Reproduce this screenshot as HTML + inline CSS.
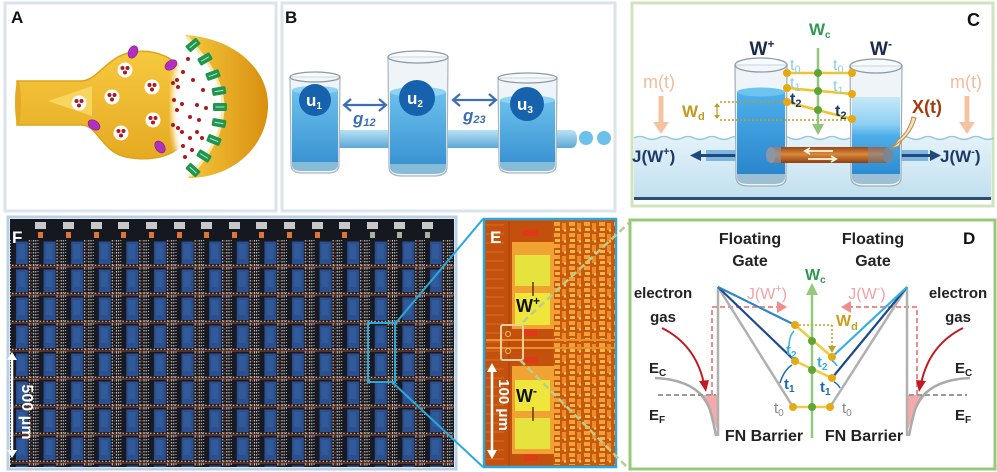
<!DOCTYPE html>
<html><head><meta charset="utf-8"><style>
html,body{margin:0;padding:0;background:#fff;}
svg{display:block;}
text{font-family:"Liberation Sans",Arial,sans-serif;}
</style></head><body>
<svg width="997" height="472" viewBox="0 0 997 472" xmlns="http://www.w3.org/2000/svg">
<defs>
<linearGradient id="yelA" x1="0" y1="0" x2="0" y2="1"><stop offset="0" stop-color="#f6c93f"/><stop offset="1" stop-color="#e5aa22"/></linearGradient>
<linearGradient id="postG" x1="0" y1="0" x2="1" y2="0"><stop offset="0" stop-color="#f5c83e"/><stop offset="1" stop-color="#d88f0e"/></linearGradient>
<linearGradient id="wb" x1="0" y1="0" x2="0" y2="1"><stop offset="0" stop-color="#6cc0ec"/><stop offset="1" stop-color="#3a94d2"/></linearGradient>
<linearGradient id="pipeB" x1="0" y1="0" x2="0" y2="1"><stop offset="0" stop-color="#b8e2f5"/><stop offset="1" stop-color="#5ea8d6"/></linearGradient>
<linearGradient id="wcL" x1="0" y1="0" x2="0" y2="1"><stop offset="0" stop-color="#4eb0ec"/><stop offset="1" stop-color="#2a86cc"/></linearGradient>
<linearGradient id="wcR" x1="0" y1="0" x2="0" y2="1"><stop offset="0" stop-color="#c4e8f8"/><stop offset="0.35" stop-color="#8fd0f2"/><stop offset="0.5" stop-color="#4eaee8"/><stop offset="1" stop-color="#2c8cd4"/></linearGradient>
<linearGradient id="tankC" x1="0" y1="0" x2="0" y2="1"><stop offset="0" stop-color="#e4f2f9"/><stop offset="1" stop-color="#c0dfee"/></linearGradient>
<linearGradient id="tubeG" x1="0" y1="0" x2="0" y2="1"><stop offset="0" stop-color="#9a4614"/><stop offset="0.45" stop-color="#d98a3c"/><stop offset="1" stop-color="#8e3e10"/></linearGradient>
<filter id="blur3"><feGaussianBlur stdDeviation="3"/></filter>
<pattern id="grid" x="12" y="240" width="27.6" height="28" patternUnits="userSpaceOnUse">
 <rect width="27.6" height="28" fill="#171a22"/>
 <rect x="4" y="1.5" width="12" height="22.5" fill="#2b4f8f"/>
 <rect x="6" y="4" width="7" height="15" fill="#3460a0" opacity="0.6"/>
 <line x1="17.5" y1="0" x2="17.5" y2="28" stroke="#e6dfd0" stroke-width="1" stroke-dasharray="1.5 1.5"/>
 <line x1="19.6" y1="0" x2="19.6" y2="28" stroke="#c8502a" stroke-width="1" stroke-dasharray="2 2" opacity="0.6"/>
 <line x1="21.6" y1="0" x2="21.6" y2="28" stroke="#e6dfd0" stroke-width="1" stroke-dasharray="1.5 1.5"/>
 <line x1="23.8" y1="0" x2="23.8" y2="28" stroke="#d8d0c0" stroke-width="1" stroke-dasharray="1.5 1.5"/>
 <line x1="26" y1="0" x2="26" y2="28" stroke="#e6dfd0" stroke-width="0.8" stroke-dasharray="1 2"/>
 <line x1="0" y1="25.3" x2="27.6" y2="25.3" stroke="#eee6d6" stroke-width="1" stroke-dasharray="1.5 2"/>
 <line x1="0" y1="27" x2="27.6" y2="27" stroke="#d2562a" stroke-width="1" opacity="0.7"/>
</pattern>
<pattern id="circ" x="553" y="221" width="15" height="11" patternUnits="userSpaceOnUse">
 <rect width="15" height="11" fill="#c9580f"/>
 <rect x="1" y="1" width="6" height="4" fill="#f0a238"/>
 <rect x="9" y="2" width="4" height="7" fill="#e88d2a"/>
 <rect x="2" y="7" width="5" height="3" fill="#f5b84a"/>
 <circle cx="12" cy="9.5" r="1.2" fill="#fbd060"/>
</pattern>
<pattern id="lft" x="486" y="221" width="27" height="9" patternUnits="userSpaceOnUse">
 <rect width="27" height="9" fill="#c4520e"/>
 <line x1="0" y1="4" x2="18" y2="4" stroke="#d86c22" stroke-width="1"/>
</pattern>
</defs>

<!-- ============ PANEL A ============ -->
<rect x="5" y="3" width="271" height="208" fill="#fff" stroke="#dbe3eb" stroke-width="3"/>
<text x="11" y="23" font-size="17" font-weight="bold" fill="#111">A</text>
<path d="M17,81 L82,81 C98,80 106,57 132,52 C158,48 176,60 184,72 L186,140 C176,156 152,162 126,157 C102,152 98,126 82,125 L17,125 Z" fill="url(#yelA)" stroke="#e0a21a" stroke-width="1.5"/>
<ellipse cx="18" cy="103" rx="3" ry="22" fill="#e4aa24"/>
<path d="M48,101 L92,86 L92,116 Z" fill="#f9d55e"/>
<ellipse cx="183" cy="108" rx="11" ry="52" fill="#fff" filter="url(#blur3)"/>
<path d="M185,35 C235,38 270,70 268,108 C266,148 232,178 188,178 C205,158 222,135 222,107 C222,80 205,55 185,35 Z" fill="url(#postG)"/>
<path d="M187,37 C205,57 223,80 223,107 C223,135 206,158 190,176" fill="none" stroke="#fae9a8" stroke-width="3"/>
<g fill="#1e9650">
 <g transform="translate(193,45) rotate(-40)"><rect x="-7" y="-4" width="14" height="8" rx="1.5"/><line x1="-4.5" y1="0" x2="4.5" y2="0" stroke="#bfe8c8" stroke-width="1"/></g>
 <g transform="translate(205,59) rotate(-30)"><rect x="-7" y="-4" width="14" height="8" rx="1.5"/><line x1="-4.5" y1="0" x2="4.5" y2="0" stroke="#bfe8c8" stroke-width="1"/></g>
 <g transform="translate(213,75) rotate(-20)"><rect x="-7" y="-4" width="14" height="8" rx="1.5"/><line x1="-4.5" y1="0" x2="4.5" y2="0" stroke="#bfe8c8" stroke-width="1"/></g>
 <g transform="translate(219,91) rotate(-10)"><rect x="-7" y="-4" width="14" height="8" rx="1.5"/><line x1="-4.5" y1="0" x2="4.5" y2="0" stroke="#bfe8c8" stroke-width="1"/></g>
 <g transform="translate(220,107)"><rect x="-7" y="-4" width="14" height="8" rx="1.5"/><line x1="-4.5" y1="0" x2="4.5" y2="0" stroke="#bfe8c8" stroke-width="1"/></g>
 <g transform="translate(219,123) rotate(10)"><rect x="-7" y="-4" width="14" height="8" rx="1.5"/><line x1="-4.5" y1="0" x2="4.5" y2="0" stroke="#bfe8c8" stroke-width="1"/></g>
 <g transform="translate(214,140) rotate(22)"><rect x="-7" y="-4" width="14" height="8" rx="1.5"/><line x1="-4.5" y1="0" x2="4.5" y2="0" stroke="#bfe8c8" stroke-width="1"/></g>
 <g transform="translate(204,156) rotate(32)"><rect x="-7" y="-4" width="14" height="8" rx="1.5"/><line x1="-4.5" y1="0" x2="4.5" y2="0" stroke="#bfe8c8" stroke-width="1"/></g>
 <g transform="translate(193,170) rotate(42)"><rect x="-7" y="-4" width="14" height="8" rx="1.5"/><line x1="-4.5" y1="0" x2="4.5" y2="0" stroke="#bfe8c8" stroke-width="1"/></g>
</g>
<g fill="#b22fc4" stroke="#7a1a8a" stroke-width="0.6">
 <ellipse cx="133" cy="52" rx="4.5" ry="6.5" transform="rotate(25 133 52)"/>
 <ellipse cx="171" cy="65" rx="4.5" ry="6.5" transform="rotate(55 171 65)"/>
 <ellipse cx="94" cy="125" rx="4.5" ry="6.5" transform="rotate(-55 94 125)"/>
 <ellipse cx="160" cy="147" rx="4.5" ry="6.5" transform="rotate(-35 160 147)"/>
</g>
<g>
 <g transform="translate(125,70)"><circle r="7.5" fill="#fff"/><circle cx="-2.5" cy="-2" r="2" fill="#b01820"/><circle cx="2.5" cy="-2" r="2" fill="#b01820"/><circle cx="0" cy="2.5" r="2" fill="#b01820"/></g>
 <g transform="translate(152,87)"><circle r="7.5" fill="#fff"/><circle cx="-2.5" cy="-2" r="2" fill="#b01820"/><circle cx="2.5" cy="-2" r="2" fill="#b01820"/><circle cx="0" cy="2.5" r="2" fill="#b01820"/></g>
 <g transform="translate(112,97)"><circle r="7.5" fill="#fff"/><circle cx="-2.5" cy="-2" r="2" fill="#b01820"/><circle cx="2.5" cy="-2" r="2" fill="#b01820"/><circle cx="0" cy="2.5" r="2" fill="#b01820"/></g>
 <g transform="translate(79,103)"><circle r="7.5" fill="#fff"/><circle cx="-2.5" cy="-2" r="2" fill="#b01820"/><circle cx="2.5" cy="-2" r="2" fill="#b01820"/><circle cx="0" cy="2.5" r="2" fill="#b01820"/></g>
 <g transform="translate(153,120)"><circle r="7.5" fill="#fff"/><circle cx="-2.5" cy="-2" r="2" fill="#b01820"/><circle cx="2.5" cy="-2" r="2" fill="#b01820"/><circle cx="0" cy="2.5" r="2" fill="#b01820"/></g>
 <g transform="translate(121,133)"><circle r="7.5" fill="#fff"/><circle cx="-2.5" cy="-2" r="2" fill="#b01820"/><circle cx="2.5" cy="-2" r="2" fill="#b01820"/><circle cx="0" cy="2.5" r="2" fill="#b01820"/></g>
</g>
<g fill="#b01820">
 <circle cx="188" cy="59" r="2"/><circle cx="183" cy="72" r="2"/><circle cx="193" cy="80" r="2"/><circle cx="203" cy="90" r="2"/>
 <circle cx="197" cy="105" r="2"/><circle cx="206" cy="108" r="2"/><circle cx="190" cy="117" r="2"/><circle cx="197" cy="132" r="2"/>
 <circle cx="202" cy="138" r="2"/><circle cx="190" cy="138" r="2"/><circle cx="183" cy="146" r="2"/><circle cx="185" cy="157" r="2"/>
 <circle cx="173" cy="83" r="2"/><circle cx="178" cy="87" r="2"/><circle cx="174" cy="100" r="2"/><circle cx="182" cy="104" r="2"/>
 <circle cx="177" cy="110" r="2"/><circle cx="173" cy="125" r="2"/><circle cx="178" cy="128" r="2"/><circle cx="182" cy="132" r="2"/>
 <circle cx="177" cy="80" r="2"/><circle cx="192" cy="150" r="2"/><circle cx="199" cy="120" r="2"/>
</g>

<!-- ============ PANEL B ============ -->
<rect x="282" y="3" width="333" height="208" fill="#fff" stroke="#dbe3eb" stroke-width="3"/>
<text x="285" y="23" font-size="17" font-weight="bold" fill="#111">B</text>
<path d="M337,130 L571,130 Q577,130 577,139 Q577,148 571,148 L337,148 Z" fill="url(#pipeB)"/>
<circle cx="586" cy="138" r="7" fill="#6cc0ea"/>
<circle cx="604" cy="138" r="7" fill="#6cc0ea"/>
<!-- glass 1 -->
<path d="M290,77 L291,166 Q292,173 302,173 L328,173 Q338,173 339,166 L340,77 Z" fill="#eef4f8" stroke="#a9b6bf" stroke-width="1.2"/>
<path d="M292,90 L292,162 L338,162 L338,90 Z" fill="url(#wb)"/>
<ellipse cx="315" cy="90" rx="23" ry="4" fill="#8fd2f2"/>
<path d="M292,162 L292,166 Q293,171 302,171 L328,171 Q337,171 338,166 L338,162 Z" fill="#86bcd8"/>
<ellipse cx="315" cy="77" rx="25" ry="5" fill="#f4f8fb" fill-opacity="0.6" stroke="#8d9aa3" stroke-width="1.3"/>
<!-- glass 2 -->
<path d="M388,57 L389,168 Q390,176 402,176 L434,176 Q446,176 447,168 L448,57 Z" fill="#eef4f8" stroke="#a9b6bf" stroke-width="1.2"/>
<path d="M390,92 L390,164 L446,164 L446,92 Z" fill="url(#wb)"/>
<ellipse cx="418" cy="92" rx="28" ry="5" fill="#8fd2f2"/>
<path d="M390,164 L390,168 Q391,174 402,174 L434,174 Q445,174 446,168 L446,164 Z" fill="#86bcd8"/>
<ellipse cx="418" cy="57" rx="30" ry="6" fill="#f4f8fb" fill-opacity="0.6" stroke="#8d9aa3" stroke-width="1.3"/>
<!-- glass 3 -->
<path d="M498,78 L499,166 Q500,173 511,173 L545,173 Q556,173 556,166 L557,78 Z" fill="#eef4f8" stroke="#a9b6bf" stroke-width="1.2"/>
<path d="M500,100 L500,162 L555,162 L555,100 Z" fill="url(#wb)"/>
<ellipse cx="527.5" cy="100" rx="27.5" ry="4.5" fill="#8fd2f2"/>
<path d="M500,162 L500,166 Q501,171 511,171 L545,171 Q554,171 555,166 L555,162 Z" fill="#86bcd8"/>
<ellipse cx="527.5" cy="78" rx="29.5" ry="5" fill="#f4f8fb" fill-opacity="0.6" stroke="#8d9aa3" stroke-width="1.3"/>
<!-- u circles -->
<circle cx="315" cy="100" r="16" fill="#1662ac"/>
<text x="306" y="106" font-size="17" font-weight="bold" fill="#fff">u<tspan font-size="10" dy="3">1</tspan></text>
<circle cx="417" cy="98" r="18" fill="#1662ac"/>
<text x="407" y="104" font-size="17" font-weight="bold" fill="#fff">u<tspan font-size="10" dy="3">2</tspan></text>
<circle cx="527" cy="104" r="17" fill="#1662ac"/>
<text x="517" y="110" font-size="17" font-weight="bold" fill="#fff">u<tspan font-size="10" dy="3">3</tspan></text>
<!-- arrows -->
<g stroke="#3d6fb2" stroke-width="2.2" fill="none">
 <line x1="344" y1="105" x2="386" y2="105"/>
 <polyline points="351,99 344,105 351,111"/>
 <polyline points="379,99 386,105 379,111"/>
 <line x1="453" y1="100" x2="496" y2="100"/>
 <polyline points="460,94 453,100 460,106"/>
 <polyline points="489,94 496,100 489,106"/>
</g>
<text x="353" y="124" font-size="17" font-weight="bold" font-style="italic" fill="#3d6fb2">g<tspan font-size="11" dy="2">12</tspan></text>
<text x="463" y="121" font-size="17" font-weight="bold" font-style="italic" fill="#3d6fb2">g<tspan font-size="11" dy="2">23</tspan></text>

<!-- ============ PANEL C ============ -->
<rect x="632" y="3" width="361" height="203" fill="#fff" stroke="#cfe3bd" stroke-width="3"/>
<rect x="634" y="138" width="357" height="62" fill="url(#tankC)"/>
<path d="M634,138 q6,-3 12,0 t12,0 t12,0 t12,0 t12,0 t12,0 t12,0 t12,0 t12,0 t12,0 t12,0 t12,0 t12,0 t12,0 t12,0 t12,0 t12,0 t12,0 t12,0 t12,0 t12,0 t12,0 t12,0 t12,0 t12,0 t12,0 t12,0 t12,0 t12,0 t12,0" fill="none" stroke="#98c6dc" stroke-width="1.5"/>
<rect x="634" y="197" width="357" height="3" fill="#2e4c6c"/>
<text x="967" y="26" font-size="18" font-weight="bold" fill="#111">C</text>
<!-- J pipes -->
<rect x="706" y="150" width="32" height="11" fill="#7eb6e0"/>
<rect x="898" y="150" width="30" height="11" fill="#7eb6e0"/>
<line x1="700" y1="155.5" x2="738" y2="155.5" stroke="#1e4a80" stroke-width="3"/>
<polygon points="690,155.5 701,150 701,161" fill="#1e4a80"/>
<line x1="895" y1="155.5" x2="932" y2="155.5" stroke="#1e4a80" stroke-width="3"/>
<polygon points="941,155.5 930,150 930,161" fill="#1e4a80"/>
<text x="632" y="162" font-size="17" font-weight="bold" fill="#1d3a6a">J(W<tspan font-size="11" dy="-7">+</tspan><tspan dy="7">)</tspan></text>
<text x="940" y="162" font-size="17" font-weight="bold" fill="#1d3a6a">J(W<tspan font-size="11" dy="-7">-</tspan><tspan dy="7">)</tspan></text>
<!-- left glass -->
<path d="M735,65 L736,178 Q737,186 748,186 L774,186 Q786,186 786,178 L787,65 Z" fill="#eef4f8" stroke="#a0aeb8" stroke-width="1.2"/>
<path d="M737,92 L737,174 L785,174 L785,92 Z" fill="url(#wcL)"/>
<ellipse cx="761" cy="92" rx="24" ry="4.5" fill="#6ec4f0"/>
<path d="M737,174 L737,178 Q738,184 748,184 L774,184 Q784,184 785,178 L785,174 Z" fill="#9cbfd4"/>
<ellipse cx="761" cy="65" rx="26" ry="7" fill="#f4f8fb" fill-opacity="0.6" stroke="#8d9aa3" stroke-width="1.3"/>
<!-- right glass -->
<path d="M850,66 L851,178 Q852,186 863,186 L889,186 Q901,186 901,178 L902,66 Z" fill="#eef4f8" stroke="#a0aeb8" stroke-width="1.2"/>
<path d="M852,97 L852,174 L900,174 L900,97 Z" fill="url(#wcR)"/>
<path d="M852,174 L852,178 Q853,184 863,184 L889,184 Q899,184 900,178 L900,174 Z" fill="#9cbfd4"/>
<ellipse cx="876" cy="66" rx="26" ry="7" fill="#f4f8fb" fill-opacity="0.6" stroke="#8d9aa3" stroke-width="1.3"/>
<!-- tube -->
<rect x="770" y="147" width="118" height="16" fill="url(#tubeG)"/>
<ellipse cx="771" cy="155" rx="5" ry="8" fill="#8c96a4"/>
<ellipse cx="888" cy="155" rx="5" ry="8" fill="#7a8696"/>
<rect x="771" y="147" width="10" height="16" fill="#8c96a4" opacity="0.7"/>
<rect x="868" y="147" width="20" height="16" fill="#7a8696" opacity="0.55"/>
<g stroke="#fff6d8" stroke-width="1.8" fill="none">
 <line x1="805" y1="151" x2="833" y2="151"/><polyline points="810,148 805,151 810,154"/>
 <line x1="808" y1="159" x2="836" y2="159"/><polyline points="831,156 836,159 831,162"/>
</g>
<!-- X(t) pointer -->
<path d="M916,118 C912,132 904,140 893,147 L898,140 C906,134 910,126 912,117 Z" fill="#f3e3b8" stroke="#b88a50" stroke-width="1"/>
<polygon points="890,149 902,140 899,146" fill="#f3e3b8" stroke="#b88a50" stroke-width="1"/>
<text x="912" y="113" font-size="18" font-weight="bold" fill="#a33c10">X(t)</text>
<!-- m(t) -->
<text x="643" y="88" font-size="18" fill="#f2bd9c">m(t)</text>
<text x="950" y="88" font-size="18" fill="#f2bd9c">m(t)</text>
<line x1="661" y1="96" x2="661" y2="124" stroke="#f4c4a2" stroke-width="5"/>
<polygon points="653,122 669,122 661,134" fill="#f4c4a2"/>
<line x1="967" y1="96" x2="967" y2="124" stroke="#f4c4a2" stroke-width="5"/>
<polygon points="959,122 975,122 967,134" fill="#f4c4a2"/>
<!-- Wd -->
<text x="682" y="117" font-size="17" font-weight="bold" fill="#c29a1e">W<tspan font-size="11" dy="3">d</tspan></text>
<g stroke="#c29a1e" stroke-width="1.5" fill="none" stroke-dasharray="2 2">
 <line x1="720" y1="102" x2="787" y2="102"/>
 <line x1="720" y1="120" x2="852" y2="120"/>
</g>
<line x1="717" y1="106" x2="717" y2="116" stroke="#c29a1e" stroke-width="1.2"/>
<polygon points="714,107 720,107 717,103" fill="#c29a1e"/>
<polygon points="714,115 720,115 717,119" fill="#c29a1e"/>
<!-- Wc arrow -->
<line x1="818" y1="48" x2="818" y2="126" stroke="#92c57a" stroke-width="2.5"/>
<polygon points="812,124 824,124 818,135" fill="#92c57a"/>
<text x="809" y="35" font-size="17" font-weight="bold" fill="#2e9a4e">W<tspan font-size="10" dy="3">c</tspan></text>
<!-- yellow lines and dots -->
<g stroke="#f0c42a" stroke-width="2.5">
 <line x1="787" y1="73" x2="852" y2="73"/>
 <line x1="787" y1="88" x2="852" y2="94"/>
 <line x1="787" y1="102" x2="852" y2="119"/>
</g>
<g fill="#e6a90e"><circle cx="787" cy="73" r="4"/><circle cx="787" cy="88" r="4"/><circle cx="787" cy="102" r="4"/><circle cx="852" cy="73" r="4"/><circle cx="852" cy="94" r="4"/><circle cx="852" cy="119" r="4"/></g>
<g fill="#5ea534"><circle cx="818" cy="73" r="4"/><circle cx="818" cy="91" r="4"/><circle cx="818" cy="110" r="4"/></g>
<text x="762" y="55" font-size="19" font-weight="bold" fill="#1b2a48" text-anchor="middle">W<tspan font-size="12" dy="-7">+</tspan></text>
<text x="870" y="55" font-size="19" font-weight="bold" fill="#1b2a48">W<tspan font-size="12" dy="-7">-</tspan></text>
<text x="790" y="70" font-size="16" fill="#8ccfe0">t<tspan font-size="11" dy="3">0</tspan></text>
<text x="790" y="88" font-size="16" fill="#8ccfe0">t<tspan font-size="11" dy="3">1</tspan></text>
<text x="790" y="104" font-size="16" font-weight="bold" fill="#1a3a6a">t<tspan font-size="11" dy="3">2</tspan></text>
<text x="833" y="70" font-size="16" fill="#8ccfe0">t<tspan font-size="11" dy="3">0</tspan></text>
<text x="833" y="91" font-size="16" fill="#8ccfe0">t<tspan font-size="11" dy="3">1</tspan></text>
<text x="835" y="116" font-size="16" font-weight="bold" fill="#1a3a6a">t<tspan font-size="11" dy="3">2</tspan></text>

<!-- ============ PANEL F ============ -->
<rect x="8" y="217" width="448" height="252" fill="#fff" stroke="#b9cfe4" stroke-width="3"/>
<rect x="10" y="219" width="444" height="248" fill="#15181e"/>
<rect x="10" y="240" width="444" height="227" fill="url(#grid)"/>
<g fill="#c8c8c8">
 <rect x="35" y="222" width="11" height="7"/><rect x="63" y="222" width="11" height="7"/><rect x="91" y="222" width="11" height="7"/><rect x="118" y="222" width="11" height="7"/><rect x="146" y="222" width="11" height="7"/><rect x="174" y="222" width="11" height="7"/><rect x="201" y="222" width="11" height="7"/><rect x="229" y="222" width="11" height="7"/><rect x="256" y="222" width="11" height="7"/><rect x="284" y="222" width="11" height="7"/><rect x="312" y="222" width="11" height="7"/><rect x="339" y="222" width="11" height="7"/><rect x="367" y="222" width="11" height="7"/><rect x="394" y="222" width="11" height="7"/><rect x="422" y="222" width="11" height="7"/>
</g>
<g fill="#e07434">
 <rect x="38" y="232" width="5" height="6"/><rect x="66" y="232" width="5" height="6"/><rect x="94" y="232" width="5" height="6"/><rect x="121" y="232" width="5" height="6"/><rect x="149" y="232" width="5" height="6"/><rect x="177" y="232" width="5" height="6"/><rect x="204" y="232" width="5" height="6"/><rect x="232" y="232" width="5" height="6"/><rect x="259" y="232" width="5" height="6"/><rect x="287" y="232" width="5" height="6"/><rect x="315" y="232" width="5" height="6"/><rect x="342" y="232" width="5" height="6"/>
</g>
<g fill="#a8b0a0"><rect x="370" y="232" width="5" height="6"/><rect x="397" y="232" width="5" height="6"/><rect x="425" y="232" width="5" height="6"/></g>
<text x="12" y="243" font-size="17" font-weight="bold" fill="#fff">F</text>
<line x1="12" y1="358" x2="12" y2="452" stroke="#fff" stroke-width="2.5"/>
<polygon points="7,360 17,360 12,352" fill="#fff"/>
<polygon points="7,450 17,450 12,458" fill="#fff"/>
<text transform="translate(22,412) rotate(90)" font-size="16" font-weight="bold" fill="#fff" text-anchor="middle">500 μm</text>
<rect x="368" y="323" width="27" height="59" fill="none" stroke="#2aa8dc" stroke-width="2"/>
<line x1="395" y1="324" x2="483" y2="219" stroke="#2aa8dc" stroke-width="2"/>
<line x1="392" y1="382" x2="483" y2="467" stroke="#2aa8dc" stroke-width="2"/>

<!-- ============ PANEL E ============ -->
<rect x="484" y="219" width="132" height="248" fill="#c4500e" stroke="#2aa8dc" stroke-width="2.5"/>
<rect x="486" y="221" width="24" height="244" fill="url(#lft)"/>
<line x1="509" y1="221" x2="509" y2="465" stroke="#b0460a" stroke-width="1.5"/>
<rect x="553" y="221" width="62" height="244" fill="url(#circ)"/>
<rect x="486" y="339" width="129" height="2" fill="#e8902c"/>
<rect x="486" y="347" width="129" height="2" fill="#e8902c"/>
<rect x="512" y="242" width="42" height="87" fill="#f0a233"/>
<rect x="515" y="255" width="35" height="31" fill="#e6e23e"/>
<rect x="515" y="293" width="35" height="32" fill="#eee63a"/>
<line x1="533" y1="282" x2="533" y2="296" stroke="#5a3a10" stroke-width="1.5"/>
<rect x="512" y="366" width="42" height="88" fill="#f0a233"/>
<rect x="515" y="380" width="35" height="31" fill="#eee63a"/>
<rect x="515" y="418" width="35" height="31" fill="#e6e23e"/>
<line x1="533" y1="407" x2="533" y2="421" stroke="#5a3a10" stroke-width="1.5"/>
<g fill="#e03818">
 <rect x="523" y="230" width="15" height="6"/><rect x="524" y="330" width="13" height="6"/><rect x="524" y="357" width="13" height="6"/><rect x="524" y="455" width="13" height="6"/>
</g>
<rect x="501" y="325" width="22" height="35" rx="2" fill="none" stroke="#ead09a" stroke-width="2"/>
<g stroke="#f4c870" stroke-width="1" fill="none"><circle cx="508" cy="334" r="2.5"/><circle cx="508" cy="351" r="2.5"/></g>
<text x="490" y="243" font-size="17" font-weight="bold" fill="#fff">E</text>
<text x="516" y="312" font-size="18" font-weight="bold" fill="#111">W<tspan font-size="12" dy="-7">+</tspan></text>
<text x="516" y="402" font-size="18" font-weight="bold" fill="#111">W<tspan font-size="12" dy="-7">-</tspan></text>
<line x1="492" y1="370" x2="492" y2="452" stroke="#fff" stroke-width="2.5"/>
<polygon points="487,372 497,372 492,363" fill="#fff"/>
<polygon points="487,450 497,450 492,459" fill="#fff"/>
<text transform="translate(499,405) rotate(90)" font-size="15" font-weight="bold" fill="#fff" text-anchor="middle">100 μm</text>
<g stroke="#b9cd8e" stroke-width="2.5" stroke-dasharray="7 4" fill="none">
 <line x1="523" y1="322" x2="632" y2="220"/>
 <line x1="520" y1="360" x2="630" y2="470"/>
</g>

<!-- ============ PANEL D ============ -->
<rect x="630" y="220" width="365" height="249" fill="#fff" stroke="#98c97a" stroke-width="3"/>
<text x="963" y="244" font-size="17" font-weight="bold" fill="#111">D</text>
<g font-size="16" font-weight="bold" fill="#222" text-anchor="middle">
 <text x="750" y="244">Floating</text><text x="750" y="266">Gate</text>
 <text x="873" y="244">Floating</text><text x="873" y="266">Gate</text>
 <text x="663" y="298" font-size="15">electron</text><text x="663" y="322" font-size="15">gas</text>
 <text x="958" y="298" font-size="15">electron</text><text x="958" y="322" font-size="15">gas</text>
 <text x="764" y="441">FN Barrier</text><text x="864" y="441">FN Barrier</text>
</g>
<text x="649" y="373" font-size="15" font-weight="bold" fill="#222">E<tspan font-size="10" dy="3">C</tspan></text>
<text x="649" y="420" font-size="15" font-weight="bold" fill="#222">E<tspan font-size="10" dy="3">F</tspan></text>
<text x="955" y="373" font-size="15" font-weight="bold" fill="#222">E<tspan font-size="10" dy="3">C</tspan></text>
<text x="955" y="420" font-size="15" font-weight="bold" fill="#222">E<tspan font-size="10" dy="3">F</tspan></text>
<!-- pink dashed -->
<g stroke="#f08c8c" stroke-width="2" stroke-dasharray="5 3" fill="none">
 <polyline points="712,395 712,307 778,307"/>
 <polyline points="917,395 917,307 850,307"/>
</g>
<polygon points="787,307 777,301 777,313" fill="#f08c8c"/>
<polygon points="841,307 851,301 851,313" fill="#f08c8c"/>
<text x="767" y="299" font-size="16" fill="#f0a4a4" text-anchor="middle">J(W<tspan font-size="11" dy="-7">+</tspan><tspan dy="7">)</tspan></text>
<text x="867" y="299" font-size="16" fill="#f0a4a4" text-anchor="middle">J(W<tspan font-size="11" dy="-7">-</tspan><tspan dy="7">)</tspan></text>
<!-- Ec / Ef -->
<path d="M700,395 L717,395 L717,430 Q712,412 700,395 Z" fill="#f2aaaa"/>
<path d="M925,395 L908,395 L908,430 Q913,412 925,395 Z" fill="#f2aaaa"/>
<path d="M655,378 Q700,380 710,410 Q714,424 716,436" fill="none" stroke="#aaa" stroke-width="2.5"/>
<path d="M970,378 Q925,380 915,410 Q911,424 909,436" fill="none" stroke="#aaa" stroke-width="2.5"/>
<g stroke="#999" stroke-width="2" stroke-dasharray="5 3"><line x1="658" y1="395" x2="716" y2="395"/><line x1="909" y1="395" x2="967" y2="395"/></g>
<path d="M662,328 Q696,345 704,384" fill="none" stroke="#c21c22" stroke-width="2"/>
<polygon points="706,392 699,381 709,380" fill="#c21c22"/>
<path d="M963,328 Q929,345 921,384" fill="none" stroke="#c21c22" stroke-width="2"/>
<polygon points="919,392 926,381 916,380" fill="#c21c22"/>
<!-- barriers -->
<g stroke="#b0b0b0" stroke-width="2.5" fill="none">
 <line x1="718" y1="287" x2="718" y2="436"/>
 <line x1="907" y1="287" x2="907" y2="436"/>
 <line x1="718" y1="287" x2="793" y2="407"/>
 <line x1="907" y1="287" x2="830" y2="407"/>
</g>
<g stroke-width="2.2">
 <line x1="718" y1="287" x2="795" y2="361" stroke="#1d4a8c"/>
 <line x1="718" y1="287" x2="795" y2="325" stroke="#2f86c4"/>
 <line x1="907" y1="287" x2="832" y2="378" stroke="#1d4a8c"/>
 <line x1="907" y1="287" x2="832" y2="357" stroke="#34b0e2"/>
</g>
<!-- Wc arrow -->
<line x1="812" y1="438" x2="812" y2="293" stroke="#94c87c" stroke-width="2.5"/>
<polygon points="806,295 818,295 812,283" fill="#94c87c"/>
<text x="805" y="280" font-size="16" font-weight="bold" fill="#2e9a50">W<tspan font-size="10" dy="3">c</tspan></text>
<!-- yellow lines -->
<g stroke="#f2ca44" stroke-width="2.5">
 <line x1="793" y1="407" x2="830" y2="407"/>
 <line x1="795" y1="361" x2="832" y2="378"/>
 <line x1="795" y1="325" x2="832" y2="357"/>
</g>
<g stroke="#c7a020" stroke-width="1.5" fill="none" stroke-dasharray="2 2">
 <line x1="795" y1="325" x2="832" y2="325"/>
 <line x1="832" y1="325" x2="832" y2="347"/>
</g>
<polygon points="828,346 836,346 832,353" fill="#c7a020"/>
<text x="836" y="326" font-size="16" font-weight="bold" fill="#c7a020">W<tspan font-size="11" dy="4">d</tspan></text>
<g fill="#e6aa14"><circle cx="793" cy="407" r="4"/><circle cx="830" cy="407" r="4"/><circle cx="795" cy="361" r="4"/><circle cx="832" cy="378" r="4"/><circle cx="795" cy="325" r="4"/><circle cx="832" cy="357" r="4"/></g>
<g fill="#5ea534"><circle cx="812" cy="407" r="4"/><circle cx="812" cy="370" r="4"/><circle cx="812" cy="341" r="4"/></g>
<!-- small curved arrows -->
<g fill="none" stroke-width="1.5">
 <path d="M789,346 Q789,336 794,331" stroke="#3aaee0"/>
 <path d="M780,383 Q784,370 792,365" stroke="#1a6ab0"/>
 <path d="M837,366 Q835,362 832,361" stroke="#3aaee0"/>
 <path d="M840,388 Q838,384 834,382" stroke="#1a6ab0"/>
</g>
<text x="786" y="355" font-size="15" font-weight="bold" fill="#3aaee0">t<tspan font-size="10" dy="3">2</tspan></text>
<text x="784" y="389" font-size="15" font-weight="bold" fill="#1a6ab0">t<tspan font-size="10" dy="3">1</tspan></text>
<text x="817" y="367" font-size="15" font-weight="bold" fill="#3aaee0">t<tspan font-size="10" dy="3">2</tspan></text>
<text x="820" y="392" font-size="15" font-weight="bold" fill="#1a6ab0">t<tspan font-size="10" dy="3">1</tspan></text>
<text x="774" y="413" font-size="15" fill="#888">t<tspan font-size="10" dy="3">0</tspan></text>
<text x="842" y="413" font-size="15" fill="#888">t<tspan font-size="10" dy="3">0</tspan></text>
</svg>
</body></html>
